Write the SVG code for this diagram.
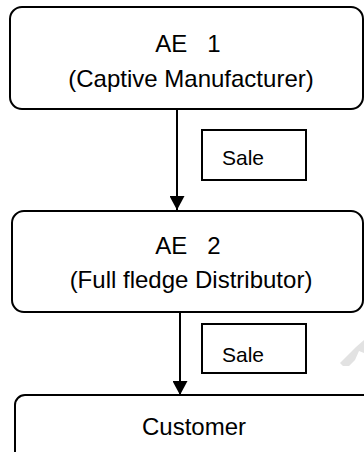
<svg xmlns="http://www.w3.org/2000/svg" width="364" height="452" viewBox="0 0 364 452">
<defs>
<style>
.node{fill:#fff;stroke:#000;stroke-width:2}
.lbl{fill:#fff;stroke:#000;stroke-width:2}
.t{font-family:"Liberation Sans",Arial,sans-serif;font-size:24px;fill:#000;text-anchor:middle;white-space:pre}
.s{font-family:"Liberation Sans",Arial,sans-serif;font-size:21px;fill:#000}
.edge{stroke:#000;stroke-width:2;fill:none}
</style>
<marker id="ah" viewBox="0 0 14 15" refX="14" refY="7.5" markerWidth="14" markerHeight="15" markerUnits="userSpaceOnUse" orient="auto">
<path d="M0,0 L14,7.5 L0,15 Z" fill="#000"/>
</marker>
</defs>
<rect width="364" height="452" fill="#fff"/>
<polygon points="340,363 356,347 364,340 364,353 359,351 355,360 349,366 343,366" fill="#e2e2e2"/>
<g id="connectors">
<line class="edge" x1="177" y1="110" x2="177" y2="210" marker-end="url(#ah)"/>
<line class="edge" x1="180" y1="313" x2="180" y2="395" marker-end="url(#ah)"/>
</g>
<g id="ae1">
<rect class="node" x="10" y="7" width="353" height="102" rx="12"/>
<text class="t" x="188" y="52" xml:space="preserve">AE   1</text>
<text class="t" x="191" y="87">(Captive Manufacturer)</text>
</g>
<g id="sale1">
<rect class="lbl" x="202" y="130" width="104" height="50"/>
<text class="s" x="222" y="165">Sale</text>
</g>
<g id="ae2">
<rect class="node" x="12" y="211" width="351" height="101" rx="12"/>
<text class="t" x="188" y="254" xml:space="preserve">AE   2</text>
<text class="t" x="191" y="288">(Full fledge Distributor)</text>
</g>
<g id="sale2">
<rect class="lbl" x="202" y="324" width="104" height="49"/>
<text class="s" x="222" y="362">Sale</text>
</g>
<g id="customer">
<rect class="node" x="15" y="395" width="360" height="80" rx="10"/>
<text class="t" x="194" y="435">Customer</text>
</g>
</svg>
